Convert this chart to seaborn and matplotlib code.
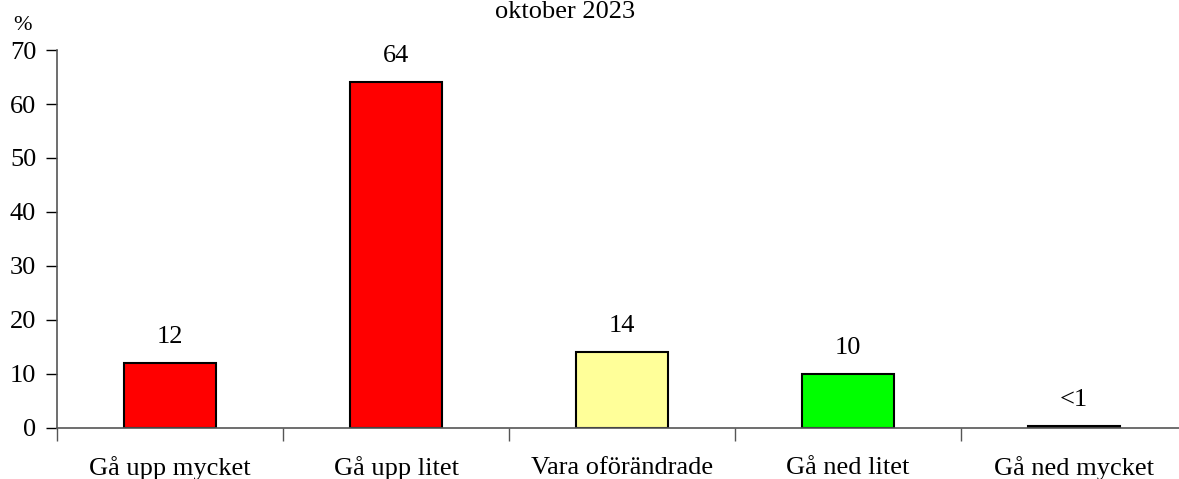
import numpy as np
import pandas as pd
import seaborn as sns
import matplotlib.pyplot as plt

# Data
categories = ["Gå upp mycket", "Gå upp litet", "Vara oförändrade", "Gå ned litet", "Gå ned mycket"]
values = [12, 64, 14, 10, 0.4]
value_labels = ["12", "64", "14", "10", "<1"]
bar_colors = ["#FF0000", "#FF0000", "#FFFF99", "#00FF00", "#000000"]

df = pd.DataFrame({"kategori": categories, "andel": values})

sns.set_style("white")
plt.rcParams["font.family"] = ["Liberation Serif", "DejaVu Serif"]
plt.rcParams["text.color"] = "black"
plt.rcParams["xtick.color"] = "black"
plt.rcParams["ytick.color"] = "black"

fig = plt.figure(figsize=(11.79, 4.79), dpi=100)
ax = fig.add_axes([57 / 1179, 51 / 479, 1130 / 1179, 378 / 479])

sns.barplot(data=df, x="kategori", y="andel", hue="kategori", palette=bar_colors,
            saturation=1, legend=False, width=0.41, edgecolor="black", linewidth=1.5, ax=ax)

ax.set_xlim(-0.5, 4.5)
ax.set_ylim(0, 70)
ax.set_yticks(np.arange(0, 71, 10))
ax.tick_params(axis="y", labelsize=19, length=8, width=1, color="black", direction="out",
               left=True, pad=7)
ax.set_xticks(np.arange(-0.5, 5, 1), minor=True)
ax.tick_params(axis="x", which="minor", length=9, width=1, color="#555555", direction="out", bottom=True)
ax.tick_params(axis="x", which="major", length=0, labelsize=19, pad=29)
for lab in ax.get_xticklabels():
    lab.set_verticalalignment("center")
ax.set_xlabel("")
ax.set_ylabel("")

for s in ["top", "right"]:
    ax.spines[s].set_visible(False)
for s in ["left", "bottom"]:
    ax.spines[s].set_color("#555555")
    ax.spines[s].set_linewidth(1.2)

for i, (v, lab) in enumerate(zip(values, value_labels)):
    ax.annotate(lab, xy=(i, v), xytext=(0, 11), textcoords="offset points",
                ha="center", va="bottom", fontsize=19)

fig.text(22 / 1179, 1 - 25 / 479, "%", ha="center", va="center", fontsize=16)
fig.text(565 / 1179, 1 - 12 / 479, "oktober 2023", ha="center", va="center", fontsize=19)

fig.savefig("out.png", dpi=100)
